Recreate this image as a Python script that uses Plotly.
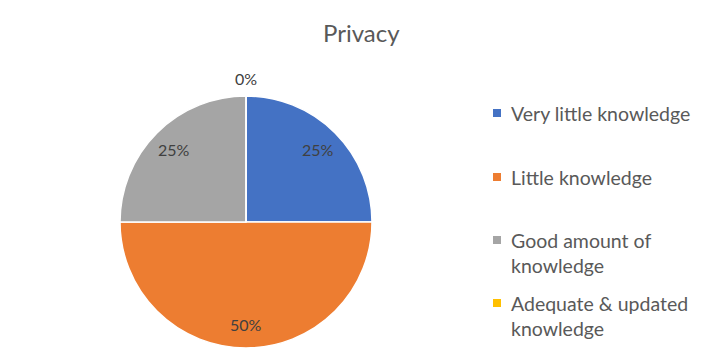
import math
import textwrap
import plotly.graph_objects as go

# Survey responses on knowledge of privacy (percent of respondents)
categories = [
    "Very little knowledge",
    "Little knowledge",
    "Good amount of knowledge",
    "Adequate & updated knowledge",
]
percentages = [25, 50, 25, 0]
colors = ["#4472C4", "#ED7D31", "#A5A5A5", "#FFC000"]
title_text = "Privacy"

W, H = 702, 361
FONT = "Lato"

# Pie geometry in pixels
cx, cy, R = 246, 222, 126

fig = go.Figure(
    go.Pie(
        labels=categories,
        values=percentages,
        sort=False,
        direction="clockwise",
        rotation=0,
        marker=dict(colors=colors, line=dict(color="white", width=1.5)),
        textinfo="none",
        hoverinfo="label+percent",
        showlegend=False,
        domain=dict(x=[(cx - R) / W, (cx + R) / W], y=[1 - (cy + R) / H, 1 - (cy - R) / H]),
    )
)

annotations = []

# Percentage labels placed along each slice's bisector
total = sum(percentages)
cum = 0.0
for val in percentages:
    mid = (cum + val / 2) / total * 2 * math.pi
    cum += val
    r = 0.81 * R if val > 0 else 1.14 * R
    px = cx + r * math.sin(mid)
    py = cy - r * math.cos(mid)
    annotations.append(dict(
        x=px / W, y=1 - py / H, xref="paper", yref="paper",
        text=f"{round(val / total * 100)}%", showarrow=False,
        xanchor="center", yanchor="middle",
        font=dict(family=FONT, size=16, color="#404040"),
    ))

# Legend: square swatches with wrapped category text
legend_x, swatch = 497, 8
legend_rows = [113, 177, 240, 303]
line_h = 26
shapes = []
for name, col, ly in zip(categories, colors, legend_rows):
    shapes.append(dict(
        type="rect", xref="paper", yref="paper",
        x0=(legend_x - swatch / 2) / W, x1=(legend_x + swatch / 2) / W,
        y0=1 - (ly + swatch / 2) / H, y1=1 - (ly - swatch / 2) / H,
        fillcolor=col, line=dict(width=0),
    ))
    annotations.append(dict(
        x=509 / W, y=1 - (ly - line_h / 2) / H, xref="paper", yref="paper",
        text="<br>".join(textwrap.wrap(name, 21)), showarrow=False,
        xanchor="left", yanchor="top", align="left",
        font=dict(family=FONT, size=19.5, color="#595959"),
    ))

# Chart title
annotations.append(dict(
    x=361 / W, y=1 - 32 / H, xref="paper", yref="paper",
    text=title_text, showarrow=False, xanchor="center", yanchor="middle",
    font=dict(family=FONT, size=24, color="#595959"),
))

fig.update_layout(
    width=W, height=H,
    margin=dict(l=0, r=0, t=0, b=0),
    paper_bgcolor="white", plot_bgcolor="white",
    annotations=annotations, shapes=shapes,
)

fig.write_html("out.html")
